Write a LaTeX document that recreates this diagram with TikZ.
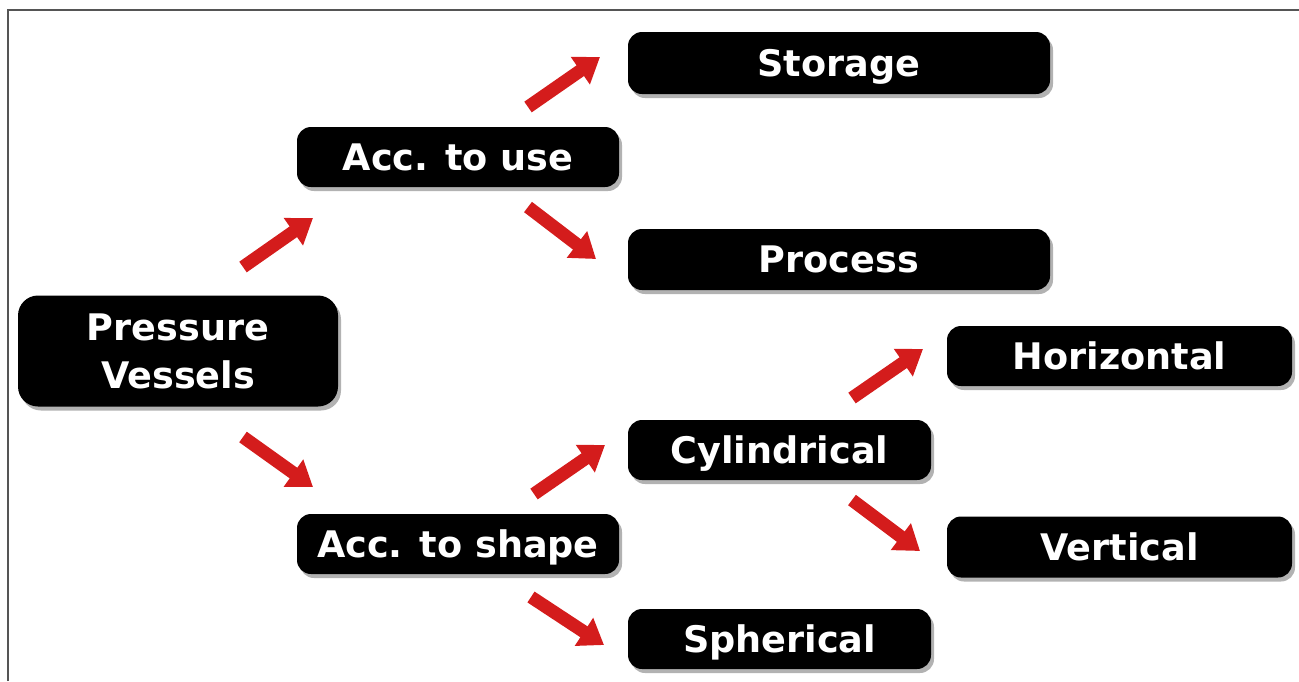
\documentclass[tikz,border=0pt]{standalone}
\usepackage{fontspec}
\setmainfont{DejaVu Sans}
\usetikzlibrary{arrows.meta,shadows}
\definecolor{arrred}{RGB}{212,28,28}
\definecolor{framegray}{RGB}{85,85,85}
\tikzset{
  box/.style={fill=black, text=white, rounded corners=7pt, inner sep=0pt,
    font=\fontsize{18.3pt}{24pt}\selectfont\bfseries, align=center,
    text height=13.4pt, text depth=0pt,
    drop shadow={shadow xshift=1.5pt, shadow yshift=-2pt, opacity=0.3, fill=black}},
  bigarrow/.style={draw=arrred, line width=6.5pt, -{Triangle[width=16pt,length=12pt]}, arrred}
}
\begin{document}
\begin{tikzpicture}[x=0.5pt,y=-0.5pt]
\useasboundingbox (0,0) rectangle (1299,681);
\draw[framegray, line width=0.8pt] (8,681) -- (8,10) -- (1299,10);
% nodes
\node[box, minimum width=211pt, minimum height=31pt] (storage) at (839,63) {Storage};
\node[box, minimum width=161pt, minimum height=30pt] (use) at (458,157) {Acc. to use};
\node[box, minimum width=211pt, minimum height=30.5pt] (process) at (839,259.5) {Process};
\node[box, minimum width=160pt, minimum height=55.5pt, rounded corners=10pt, text height=37.4pt] (pv) at (178,351) {Pressure\\Vessels};
\node[box, minimum width=172.5pt, minimum height=30pt] (horiz) at (1119.5,356) {Horizontal};
\node[box, minimum width=151.5pt, minimum height=30pt] (cyl) at (779.5,450) {Cylindrical};
\node[box, minimum width=161pt, minimum height=30pt] (shape) at (458,544) {Acc. to shape};
\node[box, minimum width=172.5pt, minimum height=30.5pt] (vert) at (1119.5,547) {Vertical};
\node[box, minimum width=151.5pt, minimum height=30pt] (sph) at (779.5,639) {Spherical};
% arrow end points
\coordinate (a1s) at (243,267); \coordinate (a1e) at (313,218);
\coordinate (a2s) at (528,107); \coordinate (a2e) at (600,57);
\coordinate (a3s) at (528,207); \coordinate (a3e) at (596,259);
\coordinate (a4s) at (243,437); \coordinate (a4e) at (313,487);
\coordinate (a5s) at (534,494); \coordinate (a5e) at (605,445);
\coordinate (a6s) at (531,597); \coordinate (a6e) at (604,645);
\coordinate (a7s) at (852,398); \coordinate (a7e) at (923,349);
\coordinate (a8s) at (852,500); \coordinate (a8e) at (920,551);
\draw[bigarrow] (a1s) -- (a1e);
\draw[bigarrow] (a2s) -- (a2e);
\draw[bigarrow] (a3s) -- (a3e);
\draw[bigarrow] (a4s) -- (a4e);
\draw[bigarrow] (a5s) -- (a5e);
\draw[bigarrow] (a6s) -- (a6e);
\draw[bigarrow] (a7s) -- (a7e);
\draw[bigarrow] (a8s) -- (a8e);
\end{tikzpicture}
\end{document}
